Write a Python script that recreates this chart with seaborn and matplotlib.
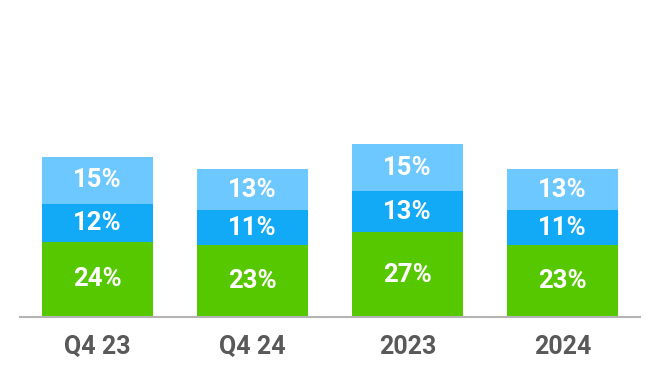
import numpy as np
import pandas as pd
import matplotlib.pyplot as plt
import seaborn as sns

# chart values
periods = ['Q4 23', 'Q4 24', '2023', '2024']
green_vals = [24, 23, 27, 23]
mid_vals = [12, 11, 13, 11]
light_vals = [15, 13, 15, 13]

colors = ['#56c800', '#12aaf6', '#6cc8ff']

sns.set_style('white')
plt.rcParams['font.family'] = ['Roboto', 'DejaVu Sans']

fig = plt.figure(figsize=(6.6, 3.84), dpi=100)
ax = fig.add_axes([20 / 660, 67 / 384, 620 / 660, 317 / 384])

bottoms = np.zeros(len(periods))
for vals, col in zip([green_vals, mid_vals, light_vals], colors):
    df = pd.DataFrame({'period': periods, 'val': vals})
    sns.barplot(data=df, x='period', y='val', color=col, saturation=1,
                width=0.716, bottom=bottoms, linewidth=0, ax=ax)
    cont = ax.containers[-1]
    ax.bar_label(cont, labels=[f'{v}%' for v in vals], label_type='center',
                 color='white', fontsize=18.5, fontweight='bold')
    bottoms = bottoms + np.array(vals)

ax.set_xlim(-0.5, 3.5)
ax.set_ylim(0, 101)
ax.set_xlabel('')
ax.set_ylabel('')
ax.set_yticks([])
ax.tick_params(axis='x', length=0, pad=13, labelsize=18, labelcolor='#595959')
for lab in ax.get_xticklabels():
    lab.set_fontweight('bold')

sns.despine(ax=ax, left=True)
ax.spines['bottom'].set_color('#b4b4b4')
ax.spines['bottom'].set_linewidth(1.5)

plt.savefig('out.png', dpi=100)
